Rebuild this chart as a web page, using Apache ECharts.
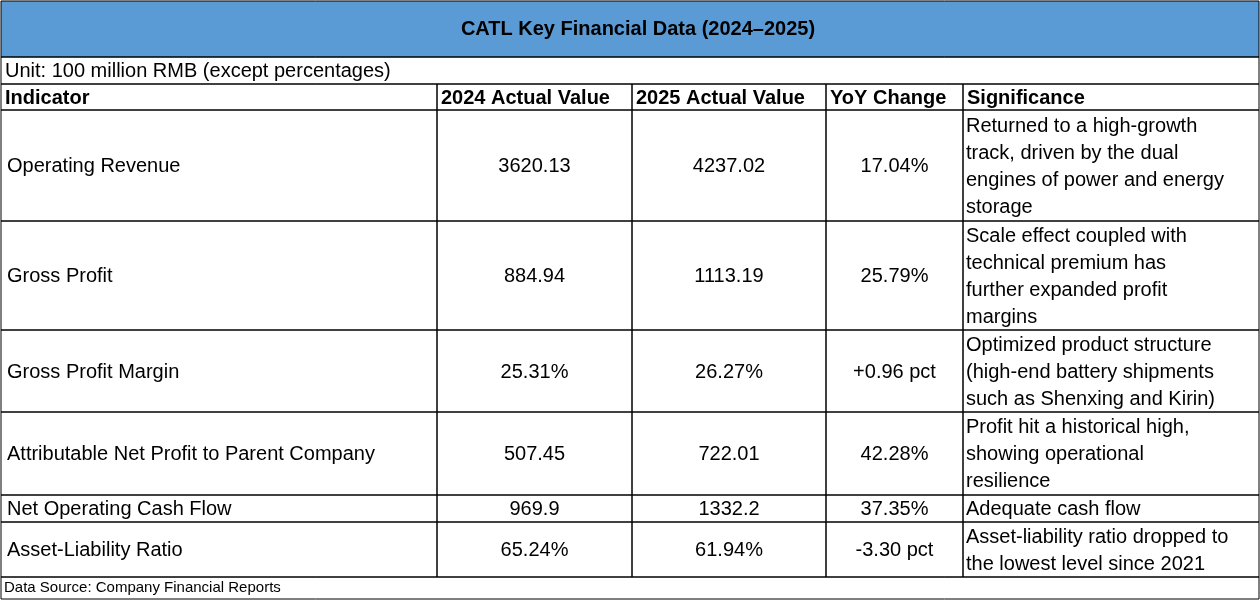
<!DOCTYPE html>
<html><head><meta charset="utf-8">
<script src="https://cdn.jsdelivr.net/npm/echarts@6/dist/echarts.min.js"></script>
<style>html,body{margin:0;padding:0;background:#fff}#main{width:1260px;height:600px}</style>
</head><body><div id="main"></div>
<script>
var title = 'CATL Key Financial Data (2024–2025)';
var unitNote = 'Unit: 100 million RMB (except percentages)';
var source = 'Data Source: Company Financial Reports';
var headers = ['Indicator', '2024 Actual Value', '2025 Actual Value', 'YoY Change', 'Significance'];
var indicators = ['Operating Revenue', 'Gross Profit', 'Gross Profit Margin',
  'Attributable Net Profit to Parent Company', 'Net Operating Cash Flow', 'Asset-Liability Ratio'];
var values2024 = ['3620.13', '884.94', '25.31%', '507.45', '969.9', '65.24%'];
var values2025 = ['4237.02', '1113.19', '26.27%', '722.01', '1332.2', '61.94%'];
var yoyChange = ['17.04%', '25.79%', '+0.96 pct', '42.28%', '37.35%', '-3.30 pct'];
var significance = [
  'Returned to a high-growth\ntrack, driven by the dual\nengines of power and energy\nstorage',
  'Scale effect coupled with\ntechnical premium has\nfurther expanded profit\nmargins',
  'Optimized product structure\n(high-end battery shipments\nsuch as Shenxing and Kirin)',
  'Profit hit a historical high,\nshowing operational\nresilience',
  'Adequate cash flow',
  'Asset-liability ratio dropped to\nthe lowest level since 2021'
];

var colX = [1, 437, 632, 826, 963, 1259];
var rowY = [110, 221, 330, 412, 495, 522, 577];
var font = 'Helvetica, Arial, "Liberation Sans", sans-serif';
var els = [];
function rect(x, y, w, h, fill) {
  els.push({type: 'rect', shape: {x: x, y: y, width: w, height: h},
    style: {fill: fill || 'none', stroke: '#000', lineWidth: 1}});
}
function text(x, y, s, opt) {
  opt = opt || {};
  els.push({type: 'text', x: x, y: y, style: {text: s, fill: '#000',
    font: (opt.bold ? 'bold ' : '') + (opt.size || 20) + 'px ' + font,
    align: opt.align || 'left', verticalAlign: 'middle', lineHeight: opt.lh || 27}});
}

// title bar
rect(1, 1, 1258, 56, '#5b9bd5');
text(638, 29, title, {bold: true, size: 20, align: 'center'});
// unit row
rect(1, 57, 1258, 27);
text(5, 71, unitNote);
// header
for (var c = 0; c < 5; c++) {
  rect(colX[c], 84, colX[c + 1] - colX[c], 26);
  text(colX[c] + 4, 98, headers[c], {bold: true});
}
// body
var cols = [indicators, values2024, values2025, yoyChange, significance];
for (var r = 0; r < indicators.length; r++) {
  var y0 = rowY[r], y1 = rowY[r + 1], ym = (y0 + y1) / 2 + 1;
  for (c = 0; c < 5; c++) {
    rect(colX[c], y0, colX[c + 1] - colX[c], y1 - y0);
    var cx = (colX[c] + colX[c + 1]) / 2;
    if (c === 0) text(colX[c] + 6, ym, cols[c][r]);
    else if (c === 4) text(colX[c] + 3, ym, cols[c][r]);
    else text(cx, ym, cols[c][r], {align: 'center'});
  }
}
// source row
rect(1, 577, 1258, 22);
text(4, 588, source, {size: 15});

var chart = echarts.init(document.getElementById('main'));
chart.setOption({animation: false, graphic: {elements: els}});
</script></body></html>
